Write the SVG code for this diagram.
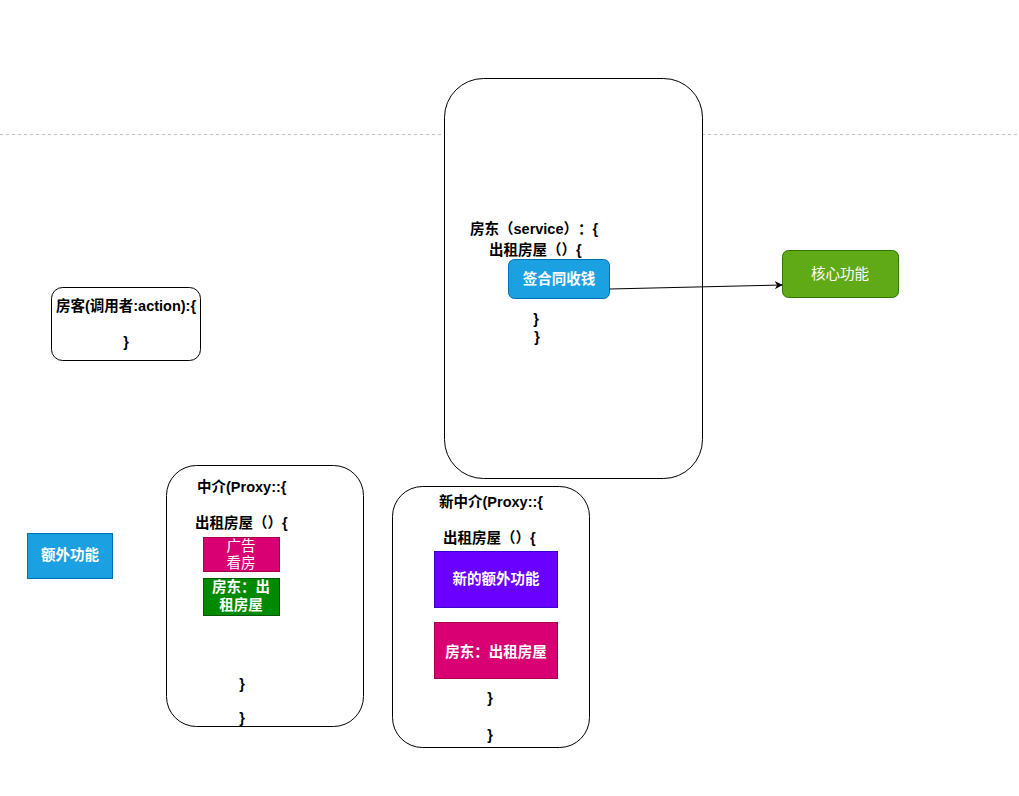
<svg xmlns="http://www.w3.org/2000/svg" width="1019" height="796" viewBox="0 0 1019 796">
<defs>
<style>
text{font-family:"Liberation Sans","Noto Sans CJK SC",sans-serif;font-size:14.5px;fill:#000;text-spacing-trim:space-all}
.b{font-weight:bold}
.w{fill:#fff}
.m{text-anchor:middle}
.box{fill:#fff;stroke:#000;stroke-width:1}
</style>
<marker id="arr" viewBox="0 0 10 10" refX="9" refY="5" markerWidth="8" markerHeight="8" orient="auto" markerUnits="userSpaceOnUse">
<path d="M0,0 L10,5 L0,10 L3,5 Z" fill="#000"/>
</marker>
</defs>
<rect width="1019" height="796" fill="#fff"/>
<line x1="0" y1="134.5" x2="1019" y2="134.5" stroke="#c0c0c0" stroke-dasharray="3,3"/>

<g id="landlord">
<rect class="box" x="444.5" y="78.5" width="258" height="400" rx="39" ry="39"/>
<text class="b" x="470" y="234">房东（service）：{</text>
<text class="b" x="489" y="255">出租房屋（）{</text>
<text class="b m" x="536" y="324">}</text>
<text class="b m" x="537" y="342">}</text>
</g>
<g id="sign">
<rect x="508.5" y="259.5" width="101" height="39" rx="6" fill="#1ba1e2" stroke="#006eaf"/>
<text class="b w m" x="559" y="284">签合同收钱</text>
</g>
<g id="core">
<rect x="782.5" y="250.5" width="116" height="47" rx="6" fill="#60a917" stroke="#2d7600"/>
<text class="w m" x="840" y="279">核心功能</text>
</g>
<g id="tenant">
<rect class="box" x="51.5" y="287.5" width="149" height="73" rx="11"/>
<text class="b m" x="126" y="311">房客(调用者:action):{</text>
<text class="b m" x="126" y="347">}</text>
</g>
<g id="extra">
<rect x="27.5" y="533.5" width="85" height="45" fill="#1ba1e2" stroke="#006eaf"/>
<text class="b w m" x="70" y="560">额外功能</text>
</g>
<g id="proxy">
<rect class="box" x="166.5" y="465.5" width="197" height="261" rx="30"/>
<text class="b" x="197" y="492">中介(Proxy::{</text>
<text class="b" x="195" y="528">出租房屋（）{</text>
<text class="b m" x="242" y="689">}</text>
<text class="b m" x="242" y="723">}</text>
</g>
<g id="ad">
<rect x="203.5" y="537.5" width="76" height="34" fill="#d80073" stroke="#a50040"/>
<text class="w m" x="241" y="551">广告</text>
<text class="w m" x="241" y="568">看房</text>
</g>
<g id="rent1">
<rect x="203.5" y="578.5" width="76" height="37" fill="#008a00" stroke="#005700"/>
<text class="b w m" x="241" y="592">房东：出</text>
<text class="b w m" x="241" y="610">租房屋</text>
</g>
<g id="newproxy">
<rect class="box" x="392.5" y="486.5" width="197" height="261" rx="30"/>
<text class="b m" x="491" y="507">新中介(Proxy::{</text>
<text class="b" x="443" y="543">出租房屋（）{</text>
<text class="b m" x="490" y="703">}</text>
<text class="b m" x="490" y="740">}</text>
</g>
<g id="newextra">
<rect x="434.5" y="551.5" width="123" height="56" fill="#6a00ff" stroke="#3700cc"/>
<text class="b w m" x="496" y="584">新的额外功能</text>
</g>
<g id="rent2">
<rect x="434.5" y="622.5" width="123" height="56" fill="#d80073" stroke="#a50040"/>
<text class="b w m" x="496" y="657">房东：出租房屋</text>
</g>
<g id="connectors">
<line x1="609.5" y1="289" x2="782" y2="285" stroke="#000" stroke-width="1" marker-end="url(#arr)"/>
</g>
</svg>
